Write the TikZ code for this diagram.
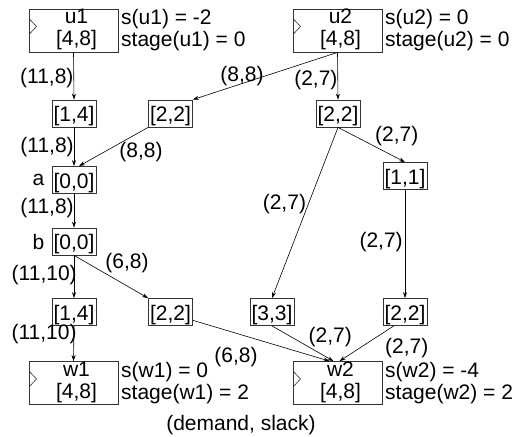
\documentclass[tikz,border=0pt]{standalone}
\usepackage{fontspec}
\setmainfont{Liberation Sans}
\usetikzlibrary{arrows.meta,calc}
\begin{document}
\begin{tikzpicture}[x=1pt,y=-1pt,
  font=\fontsize{21}{22}\selectfont,
  every node/.style={inner sep=0pt},
  rng/.style={draw=black!80, line width=0.8pt, minimum width=44pt,
    text height=21.5pt, text depth=5.5pt},
  stagebox/.style={draw=black!80, line width=0.8pt, minimum width=89pt, minimum height=43pt,
    path picture={\draw[line width=0.6pt]
      ([yshift=12pt]path picture bounding box.west) --
      ([xshift=7.5pt,yshift=4pt]path picture bounding box.west) --
      ([yshift=-4pt]path picture bounding box.west);}},
  info/.style={anchor=west, align=left},
  arr/.style={-{Stealth[length=6pt,width=4pt]}, line width=0.6pt}
]
\useasboundingbox (0,0) rectangle (523,437);

% source and sink stages
\node[stagebox, label={[name=u1t, align=center, xshift=3pt, yshift=1pt]center:u1\\{[4,8]}}] (u1) at (73.5,30.5) {};
\node[stagebox, label={[name=u2t, align=center, xshift=3pt, yshift=1pt]center:u2\\{[4,8]}}] (u2) at (337.5,30.5) {};
\node[stagebox, label={[name=w1t, align=center, xshift=3pt, yshift=1pt]center:w1\\{[4,8]}}] (w1) at (73.5,383) {};
\node[stagebox, label={[name=w2t, align=center, xshift=3pt, yshift=1pt]center:w2\\{[4,8]}}] (w2) at (337.5,383) {};

\node[info] (u1s) at (121,30.5) {s(u1) = -2\\stage(u1) = 0};
\node[info] (u2s) at (385,30.5) {s(u2) = 0\\stage(u2) = 0};
\node[info] (w1s) at (121,383) {s(w1) = 0\\stage(w1) = 2};
\node[info] (w2s) at (385,383) {s(w2) = -4\\stage(w2) = 2};

% intermediate stages
\node[rng] (t14) at (74,113.5) {[1,4]};
\node[rng] (l22) at (170.5,113.5) {[2,2]};
\node[rng] (r22) at (338,113.5) {[2,2]};
\node[rng, label={[name=alab, xshift=-7pt]left:a}] (a) at (74,180) {[0,0]};
\node[rng] (r11) at (405,176) {[1,1]};
\node[rng, label={[name=blab, xshift=-7pt]left:b}] (b) at (74,241.5) {[0,0]};
\node[rng] (b14) at (74,312) {[1,4]};
\node[rng] (b22) at (170.5,312) {[2,2]};
\node[rng] (b33) at (272,312) {[3,3]};
\node[rng] (br22) at (405,312) {[2,2]};

% connectors
\draw[arr] (u1.south) -- (t14.north) node[pos=.54, left] {(11,8)};
\draw[arr] (u2.south) -- (l22.north east) node[pos=.66, yshift=7pt] {(8,8)};
\draw[arr] (u2.south) -- (r22.north) node[pos=.58, left] {(2,7)};
\draw[arr] (t14.south) -- (a.north) node[pos=.5, left] {(11,8)};
\draw[arr] (l22.south west) -- ([xshift=5pt]a.north) node[pos=.375, anchor=north west, xshift=-3pt] {(8,8)};
\draw[arr] (a.south) -- (b.north) node[pos=.43, left] {(11,8)};
\draw[arr] (b.south) -- (b14.north) node[pos=.45, left, xshift=3pt] {(11,10)};
\draw[arr] (b.south) -- (b22.north west) node[pos=.42, anchor=south west] {(6,8)};
\draw[arr] (r22.south) -- (r11.north) node[pos=.55, anchor=south west] {(2,7)};
\draw[arr] (r22.south) -- (b33.north) node[pos=.45, left, xshift=-2pt] {(2,7)};
\draw[arr] (r11.south) -- (br22.north) node[pos=.48, left, xshift=-2pt] {(2,7)};
\draw[arr] (b14.south) -- (w1.north) node[pos=.22, left, xshift=3pt] {(11,10)};
\draw[arr] ($(b22.east)!.6!(b22.south east)$) -- ([xshift=-8pt]w2.north)
  node[pos=.315, yshift=-24pt] {(6,8)};
\draw[arr] (b33.south) -- ([xshift=-4pt]w2.north) node[pos=.33, anchor=west, xshift=16pt] {(2,7)};
\draw[arr] ($(br22.south)!.5!(br22.south west)$) -- ([xshift=2pt]w2.north)
  node[pos=.33, anchor=north west, xshift=9pt] {(2,7)};

\node (legend) at (241,425) {(demand, slack)};
\end{tikzpicture}
\end{document}
